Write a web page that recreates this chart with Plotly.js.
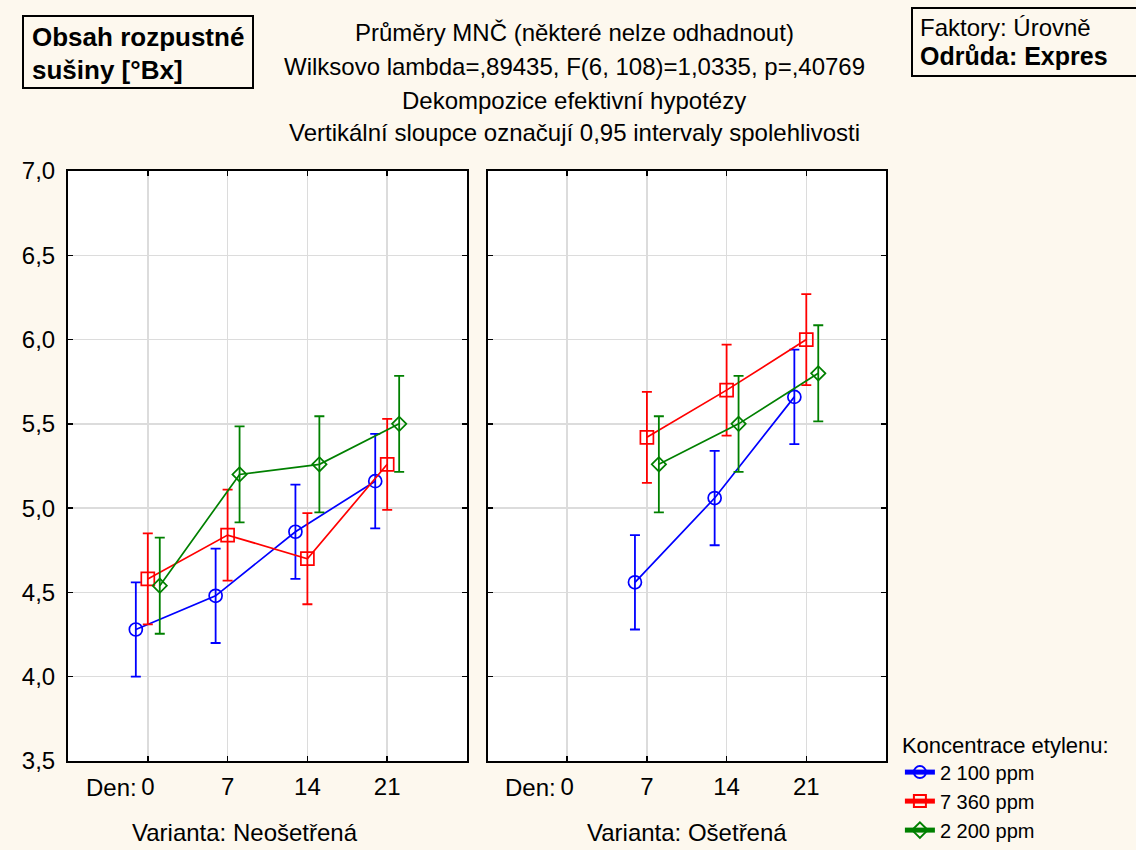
<!DOCTYPE html>
<html>
<head>
<meta charset="utf-8">
<script src="https://cdn.plot.ly/plotly-3.0.1.min.js"></script>
<style>html,body{margin:0;padding:0;background:#fdf8ee;}</style>
</head>
<body>
<div id="chart" style="width:1136px;height:850px;"></div>
<script>
// ---- data ----
const days = [0, 7, 14, 21];
const dayLabels = ["0", "7", "14", "21"];
const seriesNames = ["2 100 ppm", "7 360 ppm", "2 200 ppm"];
// Varianta: Neošetřená (left panel)
const neo_2100 = [4.28, 4.48, 4.86, 5.16];
const neo_7360 = [4.58, 4.84, 4.70, 5.26];
const neo_2200 = [4.54, 5.20, 5.26, 5.50];
// Varianta: Ošetřená (right panel) – day 0 cannot be estimated
const ose_2100 = [null, 4.56, 5.06, 5.66];
const ose_7360 = [null, 5.42, 5.70, 6.00];
const ose_2200 = [null, 5.26, 5.50, 5.80];
// 0.95 confidence half-widths
const ci_2100 = [0.28, 0.28, 0.28, 0.28];
const ci_7360 = [0.27, 0.27, 0.27, 0.27];
const ci_2200 = [0.285, 0.285, 0.285, 0.285];

const colors = ["#0000ff", "#ff0000", "#008000"];
const symbols = ["circle-open", "square-open", "diamond-open"];
const offsets = [-1.05, 0, 1.05];

const panels = [
  {vals: [neo_2100, neo_7360, neo_2200], xa: "x", ya: "y"},
  {vals: [ose_2100, ose_7360, ose_2200], xa: "x2", ya: "y2"}
];
const cis = [ci_2100, ci_7360, ci_2200];

const traces = [];
panels.forEach((p, pi) => {
  p.vals.forEach((v, si) => {
    traces.push({
      type: "scatter",
      mode: "lines+markers",
      x: days.map(d => d + offsets[si]),
      y: v,
      xaxis: p.xa, yaxis: p.ya,
      name: seriesNames[si],
      legendgroup: seriesNames[si],
      showlegend: pi === 0,
      connectgaps: false,
      line: {color: colors[si], width: 1.7},
      marker: {symbol: symbols[si], size: si === 2 ? 11 : 13, color: colors[si], line: {width: 1.7, color: colors[si]}},
      error_y: {type: "data", array: cis[si], visible: true, thickness: 1.8, width: 5, color: colors[si]},
      hoverinfo: "x+y"
    });
  });
});

const fontFam = "Liberation Sans, Arial, sans-serif";
const FS = 24;
const xCommon = {
  range: [-7, 28], tickvals: days, ticktext: dayLabels,
  showgrid: true, gridcolor: "#dcdcdc", gridwidth: 1.5,
  zeroline: false, showline: true, linecolor: "#000", linewidth: 2, mirror: "ticks",
  ticks: "inside", ticklen: 5, tickcolor: "#000", tickwidth: 1.5, automargin: false,
  tickfont: {size: FS, color: "#000"}, ticklabelstandoff: 3, fixedrange: true
};
const yCommon = {
  range: [3.5, 7.0], dtick: 0.5, tick0: 3.5, tickformat: ".1f",
  showgrid: true, gridcolor: "#dcdcdc", gridwidth: 1.5,
  zeroline: false, showline: true, linecolor: "#000", linewidth: 2, mirror: "ticks",
  ticks: "inside", ticklen: 5, tickcolor: "#000", tickwidth: 1.5, automargin: false,
  tickfont: {size: FS, color: "#000"}, ticklabelstandoff: 6, fixedrange: true
};

// pixel helpers for paper positions
const PL = 68, PW = 818, PB = 761, PH = 590;
const px = v => (v - PL) / PW;
const py = v => (PB - v) / PH;

const titleLines = [
  "Průměry MNČ (některé nelze odhadnout)",
  "Wilksovo lambda=,89435, F(6, 108)=1,0335, p=,40769",
  "Dekompozice efektivní hypotézy",
  "Vertikální sloupce označují 0,95 intervaly spolehlivosti"
];
const titleY = [33, 67, 100, 133];
const annotations = titleLines.map((t, i) => ({
  text: t, xref: "paper", yref: "paper", x: px(574), y: py(titleY[i]), yanchor: "middle",
  xanchor: "center", showarrow: false, font: {size: FS, color: "#000", family: fontFam}
}));

annotations.push({
  text: "<b>Obsah rozpustné</b>", xref: "paper", yref: "paper",
  x: px(30), y: py(37), xanchor: "left", yanchor: "middle",
  showarrow: false, font: {size: 26, color: "#000", family: fontFam}
});
annotations.push({
  text: "<b>sušiny [°Bx]</b>", xref: "paper", yref: "paper",
  x: px(30), y: py(70), xanchor: "left", yanchor: "middle",
  showarrow: false, font: {size: 26, color: "#000", family: fontFam}
});
annotations.push({
  text: "Faktory: Úrovně", xref: "paper", yref: "paper",
  x: px(918), y: py(27), xanchor: "left", yanchor: "middle",
  showarrow: false, font: {size: FS, color: "#000", family: fontFam}
});
annotations.push({
  text: "<b>Odrůda: Expres</b>", xref: "paper", yref: "paper",
  x: px(918), y: py(56), xanchor: "left", yanchor: "middle",
  showarrow: false, font: {size: 25, color: "#000", family: fontFam}
});
// "Den:" prefix for first tick of each panel
["x", "x2"].forEach(xr => {
  annotations.push({
    text: "Den:", xref: xr, yref: "paper", x: 0, y: py(787), xanchor: "right", yanchor: "middle",
    xshift: -9, showarrow: false, font: {size: FS, color: "#000", family: fontFam}
  });
});
annotations.push({
  text: "Varianta: Neošetřená", xref: "paper", yref: "paper", x: px(245), y: py(832), xanchor: "center",
  yanchor: "middle", showarrow: false, font: {size: FS, color: "#000", family: fontFam}
});
annotations.push({
  text: "Varianta: Ošetřená", xref: "paper", yref: "paper", x: px(687), y: py(832), xanchor: "center",
  yanchor: "middle", showarrow: false, font: {size: FS, color: "#000", family: fontFam}
});

const shapes = [
  {type: "rect", xref: "paper", yref: "paper", x0: px(23), x1: px(253), y0: py(88), y1: py(16),
   line: {color: "#000", width: 2}, fillcolor: "rgba(0,0,0,0)"},
  {type: "rect", xref: "paper", yref: "paper", x0: px(912), x1: px(1145), y0: py(76), y1: py(8),
   line: {color: "#000", width: 2}, fillcolor: "rgba(0,0,0,0)"}
];

const layout = {
  width: 1136, height: 850,
  paper_bgcolor: "#fdf8ee", plot_bgcolor: "#ffffff",
  font: {family: fontFam, color: "#000", size: FS},
  separators: ",\u00a0",
  margin: {l: PL, r: 1136 - PL - PW, t: 171, b: 850 - PB, pad: 0, autoexpand: false},
  xaxis: Object.assign({}, xCommon, {domain: [0, 399 / 818], anchor: "y"}),
  xaxis2: Object.assign({}, xCommon, {domain: [419.5 / 818, 1], anchor: "y2"}),
  yaxis: Object.assign({}, yCommon, {anchor: "x"}),
  yaxis2: Object.assign({}, yCommon, {anchor: "x2", showticklabels: false}),
  showlegend: true,
  legend: {
    x: 1.017, xanchor: "left", y: py(724), yanchor: "top",
    bgcolor: "rgba(0,0,0,0)", borderwidth: 0,
    title: {text: "Koncentrace etylenu:", font: {size: 22}},
    font: {size: 20, color: "#000"}, tracegroupgap: 0, itemsizing: "constant"
  },
  shapes: shapes,
  annotations: annotations
};

Plotly.newPlot("chart", traces, layout, {displayModeBar: false, staticPlot: true});
</script>
</body>
</html>
